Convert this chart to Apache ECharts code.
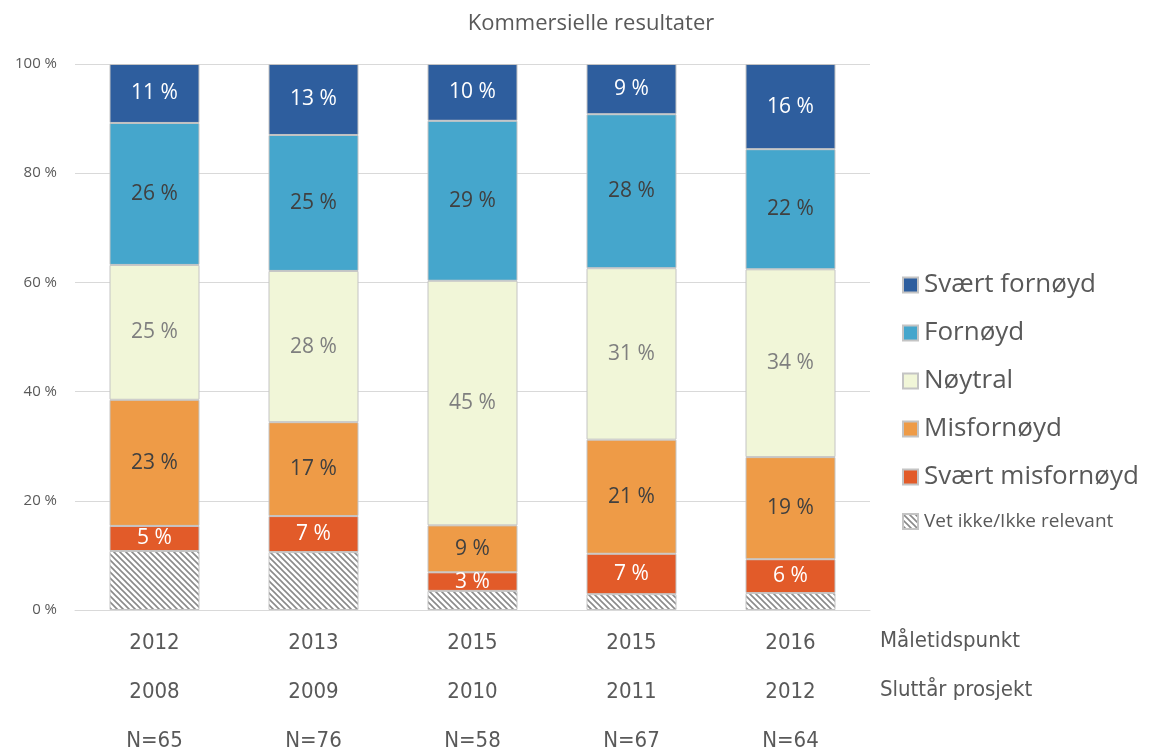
<!DOCTYPE html>
<html>
<head>
<meta charset="utf-8">
<script src="https://cdn.jsdelivr.net/npm/echarts@6/dist/echarts.min.js"></script>
<style>
  html, body { margin: 0; padding: 0; background: #fff; }
  #chart { width: 1158px; height: 752px; }
</style>
</head>
<body>
<div id="chart"></div>
<script>
const measureYears = ["2012", "2013", "2015", "2015", "2016"];
const endYears = ["2008", "2009", "2010", "2011", "2012"];
const counts = ["N=65", "N=76", "N=58", "N=67", "N=64"];

// stacked bottom to top
const vetIkke = [10.8, 10.6, 3.5, 2.9, 3.1];
const svaertMisfornoyd = [4.6, 6.6, 3.4, 7.4, 6.2];
const misfornoyd = [23.1, 17.2, 8.6, 20.9, 18.7];
const noytral = [24.7, 27.7, 44.8, 31.4, 34.4];
const fornoyd = [26.0, 24.9, 29.3, 28.2, 22.0];
const svaertFornoyd = [10.8, 13.0, 10.4, 9.2, 15.6];

const FONT = "'Open Sans', 'Noto Sans', sans-serif";
const NARROW = "'DejaVu Sans Condensed', 'Liberation Sans Narrow', 'Open Sans', sans-serif";

function hatchPattern() {
  const c = document.createElement("canvas");
  c.width = 6;
  c.height = 6;
  const ctx = c.getContext("2d");
  ctx.fillStyle = "#ffffff";
  ctx.fillRect(0, 0, 6, 6);
  ctx.strokeStyle = "#8a8a8a";
  ctx.lineWidth = 1.6;
  ctx.beginPath();
  ctx.moveTo(-1, -1); ctx.lineTo(7, 7);
  ctx.moveTo(-1, 5); ctx.lineTo(1, 7);
  ctx.moveTo(5, -1); ctx.lineTo(7, 1);
  ctx.stroke();
  return { image: c, repeat: "repeat" };
}

function barSeries(name, data, color, labelColor, showLabel) {
  return {
    name: name,
    type: "bar",
    stack: "total",
    barWidth: 90,
    data: data,
    itemStyle: { color: color, borderColor: "#c4c4c4", borderWidth: 1 },
    label: {
      show: showLabel,
      position: "inside",
      color: labelColor,
      fontFamily: FONT,
      fontSize: 21,
      formatter: (p) => Math.round(p.value) + " %",
    },
    emphasis: { disabled: true },
  };
}

let myChart = echarts.init(document.getElementById("chart"));

let option = {
  animation: false,
  title: {
    text: "Kommersielle resultater",
    left: 586,
    textAlign: "center",
    top: 8,
    textStyle: { fontFamily: FONT, fontSize: 22, fontWeight: "normal", color: "#595959" },
  },
  grid: { left: 75, right: 288, top: 64, bottom: 142, outerBoundsMode: "none" },
  legend: {
    orient: "vertical",
    left: 897,
    top: 267,
    itemWidth: 15,
    itemHeight: 15,
    itemGap: 22,
    icon: "rect",
    textStyle: { fontFamily: FONT, fontSize: 26, color: "#595959", padding: [0, 0, 0, 1] },
    data: [
      { name: "Svært fornøyd" },
      { name: "Fornøyd" },
      { name: "Nøytral" },
      { name: "Misfornøyd" },
      { name: "Svært misfornøyd" },
      { name: "Vet ikke/Ikke relevant", textStyle: { fontSize: 19 } },
    ],
  },
  xAxis: {
    type: "category",
    data: measureYears.map((y, i) => [y, endYears[i], counts[i]].join("\n")),
    axisLine: { lineStyle: { color: "#d9d9d9" } },
    axisTick: { show: false },
    axisLabel: {
      margin: 9,
      lineHeight: 49,
      fontFamily: NARROW,
      fontSize: 22,
      color: "#595959",
    },
  },
  yAxis: {
    type: "value",
    min: 0,
    max: 100,
    interval: 20,
    axisLine: { show: false },
    axisTick: { show: false },
    splitLine: { lineStyle: { color: "#d9d9d9" } },
    axisLabel: {
      margin: 18,
      fontFamily: FONT,
      fontSize: 15,
      color: "#595959",
      formatter: (v) => v + " %",
    },
  },
  graphic: [
    {
      type: "text",
      left: 880,
      top: 630,
      style: { text: "Måletidspunkt", font: "22px " + NARROW, fill: "#595959" },
    },
    {
      type: "text",
      left: 880,
      top: 679,
      style: { text: "Sluttår prosjekt", font: "22px " + NARROW, fill: "#595959" },
    },
  ],
  series: [
    barSeries("Vet ikke/Ikke relevant", vetIkke, hatchPattern(), "#404040", false),
    barSeries("Svært misfornøyd", svaertMisfornoyd, "#e25b29", "#ffffff", true),
    barSeries("Misfornøyd", misfornoyd, "#ee9b47", "#404040", true),
    barSeries("Nøytral", noytral, "#f1f6d8", "#7f7f7f", true),
    barSeries("Fornøyd", fornoyd, "#45a6cc", "#404040", true),
    barSeries("Svært fornøyd", svaertFornoyd, "#2e5e9e", "#ffffff", true),
  ],
};

option && myChart.setOption(option);
</script>
</body>
</html>
